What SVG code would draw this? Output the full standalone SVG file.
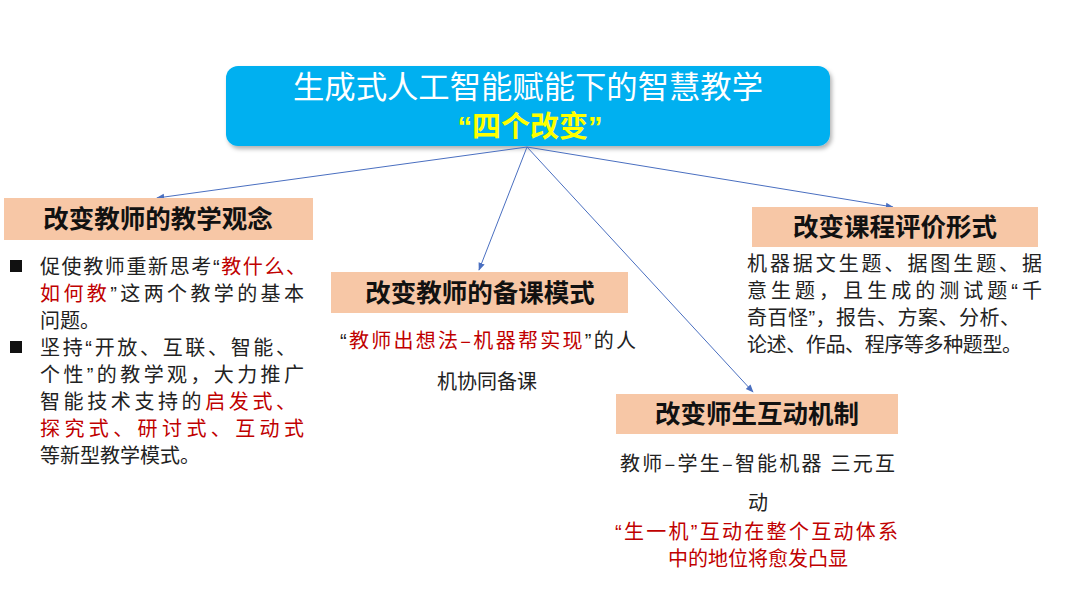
<svg xmlns="http://www.w3.org/2000/svg" width="1080" height="608" viewBox="0 0 1080 608">
<defs>
<style>
.t{font-family:"Noto Sans CJK SC","Noto Sans",sans-serif;}
.q{font-family:"Liberation Sans","Noto Sans CJK SC",sans-serif;}
.hd{font-size:25.5px;font-weight:bold;fill:#111;text-anchor:middle;}
.bd{font-size:20px;fill:#222;}
.r{fill:#c00000;}
.k{fill:#222;}
.box{fill:#f7c7a6;}
.ln{stroke:#4a6fc0;stroke-width:1;fill:none;marker-end:url(#ah);}
</style>
<marker id="ah" viewBox="0 0 10 10" refX="9" refY="5" markerWidth="8" markerHeight="8" orient="auto" markerUnits="userSpaceOnUse">
<path d="M0,1 L10,5 L0,9 z" fill="#4a6fc0"/>
</marker>
<filter id="sh" x="-5%" y="-10%" width="110%" height="130%">
<feDropShadow dx="2" dy="3" stdDeviation="2" flood-color="#000" flood-opacity="0.3"/>
</filter>
</defs>
<rect width="1080" height="608" fill="#fff"/>
<g id="title">
<rect x="226" y="66" width="604" height="80" rx="12" fill="#00b0f0" filter="url(#sh)"/>
<text class="t" x="528" y="98" font-size="31" fill="#fff" text-anchor="middle" textLength="470" lengthAdjust="spacingAndGlyphs">生成式人工智能赋能下的智慧教学</text>
<text class="t" x="530" y="137" font-size="29" font-weight="bold" fill="#ffff00" text-anchor="middle"><tspan class="q">“</tspan>四个改变<tspan class="q">”</tspan></text>
</g>
<g id="connectors">
<line class="ln" x1="527" y1="147" x2="157" y2="198"/>
<line class="ln" x1="527" y1="147" x2="479" y2="270"/>
<line class="ln" x1="527" y1="147" x2="753" y2="392"/>
<line class="ln" x1="527" y1="147" x2="893" y2="207"/>
</g>
<g id="node-concept">
<rect class="box" x="4" y="198" width="309" height="42"/>
<text class="t hd" x="158" y="228">改变教师的教学观念</text>
<rect x="10" y="260" width="12" height="12" fill="#111"/>
<rect x="10" y="341" width="12" height="12" fill="#111"/>
<text class="t bd" x="40" y="274" textLength="266" lengthAdjust="spacing">促使教师重新思考<tspan class="q">“</tspan><tspan class="r">教什么、</tspan></text>
<text class="t bd" x="40" y="301" textLength="264" lengthAdjust="spacing"><tspan class="r">如何教</tspan><tspan class="q">”</tspan>这两个教学的基本</text>
<text class="t bd" x="40" y="328">问题。</text>
<text class="t bd" x="40" y="355" textLength="256" lengthAdjust="spacing">坚持<tspan class="q">“</tspan>开放、互联、智能、</text>
<text class="t bd" x="40" y="382" textLength="264" lengthAdjust="spacing">个性<tspan class="q">”</tspan>的教学观，大力推广</text>
<text class="t bd" x="40" y="409" textLength="256" lengthAdjust="spacing">智能技术支持的<tspan class="r">启发式、</tspan></text>
<text class="t bd r" x="40" y="436" textLength="264" lengthAdjust="spacing">探究式、研讨式、互动式</text>
<text class="t bd" x="40" y="463" textLength="160" lengthAdjust="spacing">等新型教学模式。</text>
</g>
<g id="node-prep">
<rect class="box" x="331" y="272" width="297" height="41"/>
<text class="t hd" x="480" y="302">改变教师的备课模式</text>
<text class="t bd" x="340" y="348" textLength="296" lengthAdjust="spacing"><tspan class="q">“</tspan><tspan class="r">教师出想法–机器帮实现</tspan><tspan class="q">”</tspan>的人</text>
<text class="t bd" x="487" y="389" text-anchor="middle">机协同备课</text>
</g>
<g id="node-interaction">
<rect class="box" x="616" y="394" width="282" height="40"/>
<text class="t hd" x="757" y="423">改变师生互动机制</text>
<text class="t bd" x="620" y="471" textLength="275" lengthAdjust="spacing">教师–学生–智能机器 三元互</text>
<text class="t bd" x="758" y="510" text-anchor="middle">动</text>
<text class="t bd r" x="615" y="539" textLength="283" lengthAdjust="spacing"><tspan class="q">“</tspan>生一机<tspan class="q">”</tspan>互动在整个互动体系</text>
<text class="t bd r" x="758" y="566" text-anchor="middle">中的地位将愈发凸显</text>
</g>
<g id="node-eval">
<rect class="box" x="752" y="207" width="286" height="40"/>
<text class="t hd" x="895" y="236">改变课程评价形式</text>
<text class="t bd" x="747" y="271" textLength="295" lengthAdjust="spacing">机器据文生题、据图生题、据</text>
<text class="t bd" x="747" y="298" textLength="295" lengthAdjust="spacing">意生题，且生成的测试题<tspan class="q">“</tspan>千</text>
<text class="t bd" x="747" y="325" textLength="273" lengthAdjust="spacing">奇百怪<tspan class="q">”</tspan>，报告、方案、分析、</text>
<text class="t bd" x="747" y="352" textLength="275" lengthAdjust="spacing">论述、作品、程序等多种题型。</text>
</g>
</svg>
